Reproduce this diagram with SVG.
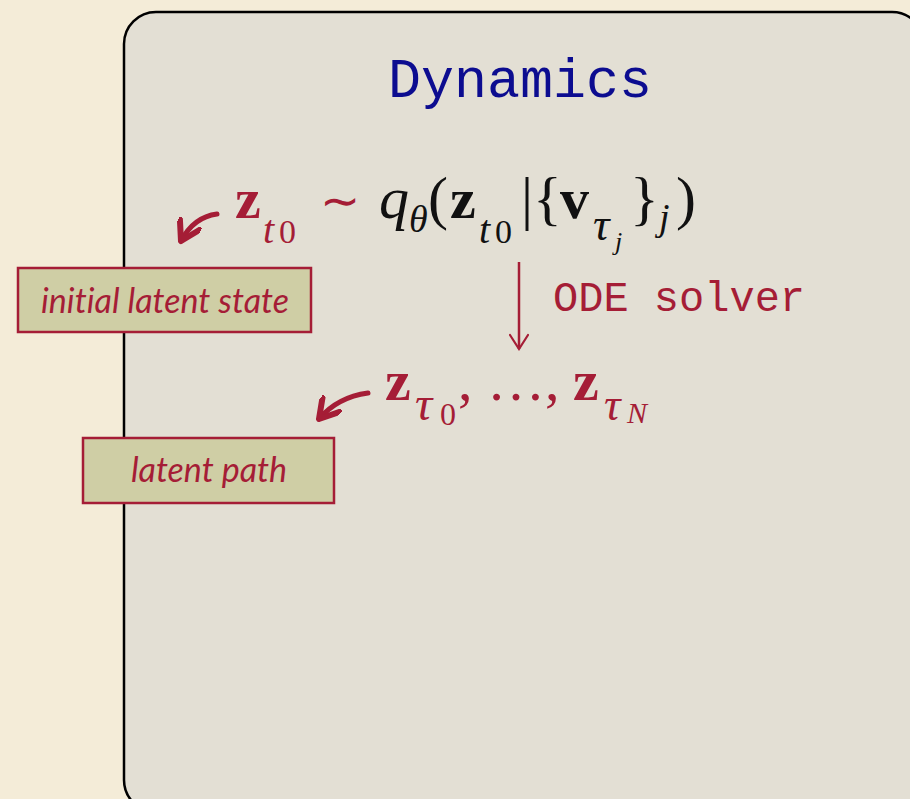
<svg xmlns="http://www.w3.org/2000/svg" width="910" height="799" viewBox="0 0 910 799">
<style>
.red{fill:#a51d36}
.blk{fill:#111}
.m{font-family:"Liberation Serif","DejaVu Serif",serif}
.b{font-weight:bold}
.i{font-style:italic}
.tt{font-family:"Liberation Mono","DejaVu Sans Mono",monospace}
.lbl{font-family:Lato,"Open Sans",sans-serif;font-style:italic;font-size:34px;fill:#a51d36;text-anchor:middle;font-variant-ligatures:none}
.box{fill:#cfcea5;stroke:#a51d36;stroke-width:2.5}
.arr{fill:none;stroke:#a51d36;stroke-width:5;stroke-linecap:round}
</style>
<defs>
<marker id="ah" viewBox="0 0 10 10" refX="8.5" refY="5" markerWidth="5" markerHeight="5" orient="auto">
<path d="M1,0.5 L8.5,5 L1,9.5" fill="none" stroke="#a51d36" stroke-width="2.4" stroke-linecap="round" stroke-linejoin="round"/>
</marker>
<marker id="ah2" viewBox="0 0 10 10" refX="9" refY="5" markerWidth="8" markerHeight="8" orient="auto">
<path d="M2,0.5 L9,5 L2,9.5" fill="none" stroke="#a51d36" stroke-width="1.1" stroke-linecap="round"/>
</marker>
</defs>
<rect width="910" height="799" fill="#f4ecd8"/>
<g id="panel">
<rect x="124" y="12" width="800" height="800" rx="32" fill="#e3dfd4" stroke="#000" stroke-width="2.5"/>
<text x="520" y="97" text-anchor="middle" class="tt" font-size="55" fill="#0c0c90">Dynamics</text>
</g>
<g id="formula" class="m">
<text x="235" y="218" font-size="58" class="red b">z</text>
<text x="263" y="243" font-size="40" class="red i">t</text>
<text x="279" y="243" font-size="34" class="red">0</text>
<text x="320" y="217" font-size="48" class="red" font-family="DejaVu Sans">∼</text>
<text x="379" y="218" font-size="60" class="blk i">q</text>
<text x="409" y="232" font-size="38" class="blk i">θ</text>
<text x="428" y="218" font-size="60" class="blk">(</text>
<text x="450" y="218" font-size="58" class="blk b">z</text>
<text x="479" y="243" font-size="40" class="blk i">t</text>
<text x="495" y="243" font-size="34" class="blk">0</text>
<text x="521" y="218" font-size="60" class="blk">|{</text>
<text x="560" y="218" font-size="58" class="blk b">v</text>
<text x="593" y="240" font-size="46" class="blk i">τ</text>
<text x="615" y="250" font-size="26" class="blk i">j</text>
<text x="630" y="218" font-size="60" class="blk">}</text>
<text x="659" y="230" font-size="38" class="blk i">j</text>
<text x="676" y="218" font-size="60" class="blk">)</text>
</g>
<g id="path-formula" class="m">
<text x="385" y="400" font-size="58" class="red b">z</text>
<text x="415" y="420" font-size="48" class="red i">τ</text>
<text x="440" y="425" font-size="32" class="red">0</text>
<text x="458" y="400" font-size="58" class="red">,</text>
<text x="487" y="400" font-size="58" class="red">…</text>
<text x="545" y="400" font-size="58" class="red">,</text>
<text x="573" y="400" font-size="58" class="red b">z</text>
<text x="604" y="420" font-size="46" class="red i">τ</text>
<text x="627" y="423" font-size="30" class="red i">N</text>
</g>
<g id="initial-latent-state">
<rect x="18" y="268" width="293" height="64" class="box"/>
<text x="165" y="313" class="lbl">initial latent state</text>
</g>
<g id="latent-path">
<rect x="83" y="438" width="251" height="65" class="box"/>
<text x="209" y="482" class="lbl">latent path</text>
</g>
<g id="connectors">
<path d="M217,214 C201,216 189,226 181,241" class="arr" marker-end="url(#ah)"/>
<path d="M368,393 C346,396 330,406 319,419" class="arr" marker-end="url(#ah)"/>
<line x1="519" y1="262" x2="519" y2="349" stroke="#a51d36" stroke-width="2.5" marker-end="url(#ah2)"/>
<text x="553" y="311" class="tt red" font-size="42">ODE solver</text>
</g>
</svg>
